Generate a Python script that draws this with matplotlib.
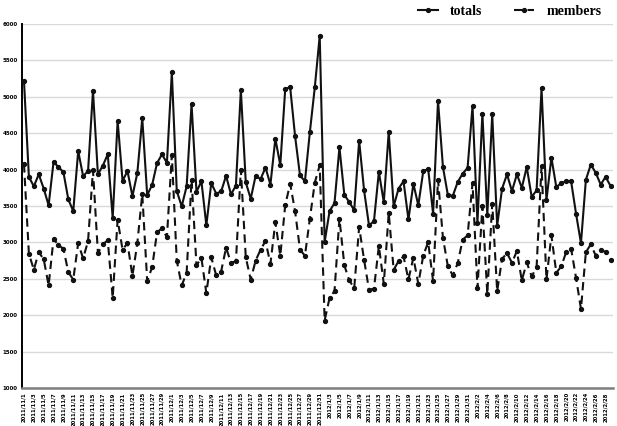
import datetime as dt
import matplotlib
matplotlib.use("Agg")
import matplotlib.pyplot as plt

# ---- data ----
start_a = dt.date(2011, 11, 1)
dates_a = [start_a + dt.timedelta(days=k) for k in range(61)]          # 2011/11/1 .. 2011/12/31
start_b = dt.date(2012, 1, 2)
dates_b = [start_b + dt.timedelta(days=k) for k in range(59)]          # 2012/1/2 .. 2012/2/29
dates = dates_a + dates_b
categories = [f"{d.year}/{d.month}/{d.day}" for d in dates]

totals = [
    5220, 3900, 3770, 3935, 3740, 3510, 4105, 4035, 3965, 3590,
    3430, 4255, 3910, 3980, 5080, 3935, 4055, 4210, 3335, 4670,
    3845, 3980, 3635, 3955, 4705, 3650, 3790, 4090, 4210, 4092,
    5335, 3705, 3495, 3770, 4900, 3695, 3840, 3235, 3815, 3670,
    3700, 3915, 3660, 3780, 5092, 3825, 3600, 3915, 3870, 4028,
    3795, 4425, 4060, 5105, 5135, 4460, 3920, 3840, 4515, 5128,
    5840, 3005, 3430, 3540, 4305, 3650, 3555, 3440, 4395, 3715,
    3235, 3290, 3970, 3550, 4515, 3495, 3740, 3840, 3315, 3805,
    3510, 3975, 4010, 3395, 4945, 4035, 3650, 3640, 3830, 3945,
    4023, 4872, 3270, 4770, 3380, 4757, 3230, 3740, 3935, 3705,
    3935, 3750, 4035, 3625, 3715, 5115, 3580, 4165, 3760, 3815,
    3840, 3840, 3395, 2990, 3860, 4070, 3955, 3795, 3900, 3775,
]

members = [
    4073, 2845, 2625, 2865, 2770, 2410, 3050, 2960, 2915, 2590,
    2490, 2990, 2780, 3018, 3990, 2855, 2975, 3028, 2240, 3312,
    2900, 2990, 2540, 2990, 3665, 2468, 2660, 3138, 3195, 3070,
    4200, 2750, 2408, 2583, 3862, 2685, 2785, 2303, 2795, 2546,
    2600, 2927, 2720, 2740, 4000, 2795, 2490, 2750, 2900, 3018,
    2706, 3280, 2817, 3510, 3807, 3430, 2900, 2817, 3326, 3821,
    4060, 1927, 2239, 2331, 3326, 2684, 2477, 2372, 3211, 2761,
    2349, 2363, 2950, 2431, 3404, 2624, 2743, 2807, 2491, 2789,
    2431, 2817, 3005, 2468, 3862, 3064, 2670, 2546, 2716, 3037,
    3096, 3816, 2372, 3495, 2294, 3532, 2331, 2775, 2853, 2720,
    2881, 2477, 2725, 2532, 2661, 4050, 2491, 3096, 2583, 2670,
    2867, 2913, 2514, 2087, 2867, 2973, 2817, 2899, 2867, 2752,
]

y_ticks = [1000, 1500, 2000, 2500, 3000, 3500, 4000, 4500, 5000, 5500, 6000]

# ---- figure ----
fig = plt.figure(figsize=(6.17, 4.26), dpi=100)
ax = fig.add_axes([22 / 617, 1 - 388 / 426, (613 - 22) / 617, (388 - 24) / 426])

x = list(range(len(categories)))
l1, = ax.plot(x, totals, color="#111111", lw=1.5, marker="o", ms=2.8,
              label="totals", zorder=3)
l2, = ax.plot(x, members, color="#111111", lw=1.5, marker="o", ms=2.8,
              linestyle=(0, (4, 2.5)), label="members", zorder=3)

ax.set_ylim(1000, 6000)
ax.set_xlim(-0.4, len(categories) - 0.5)
ax.set_yticks(y_ticks)
ax.set_yticklabels([str(v) for v in y_ticks], fontsize=4, fontweight="bold")
ax.set_xticks(x[::2])
ax.set_xticklabels(categories[::2], rotation=90, fontsize=3.8, fontweight="bold")
ax.tick_params(axis="both", length=0, pad=3)

ax.grid(axis="y", color="#d9d9d9", lw=1.0, zorder=0)
ax.set_axisbelow(True)
for s in ("top", "right"):
    ax.spines[s].set_visible(False)
ax.spines["left"].set_color("black")
ax.spines["left"].set_linewidth(1.4)
ax.spines["bottom"].set_color("#7f7f7f")
ax.spines["bottom"].set_linewidth(1.8)

leg = fig.legend(handles=[l1, l2], loc="upper right", ncol=2,
                 bbox_to_anchor=(0.995, 1.018), frameon=False,
                 prop={"family": "Liberation Serif", "weight": "bold", "size": 10},
                 handlelength=1.4, columnspacing=2.3, handletextpad=0.9)

fig.savefig("out.png", dpi=100)
